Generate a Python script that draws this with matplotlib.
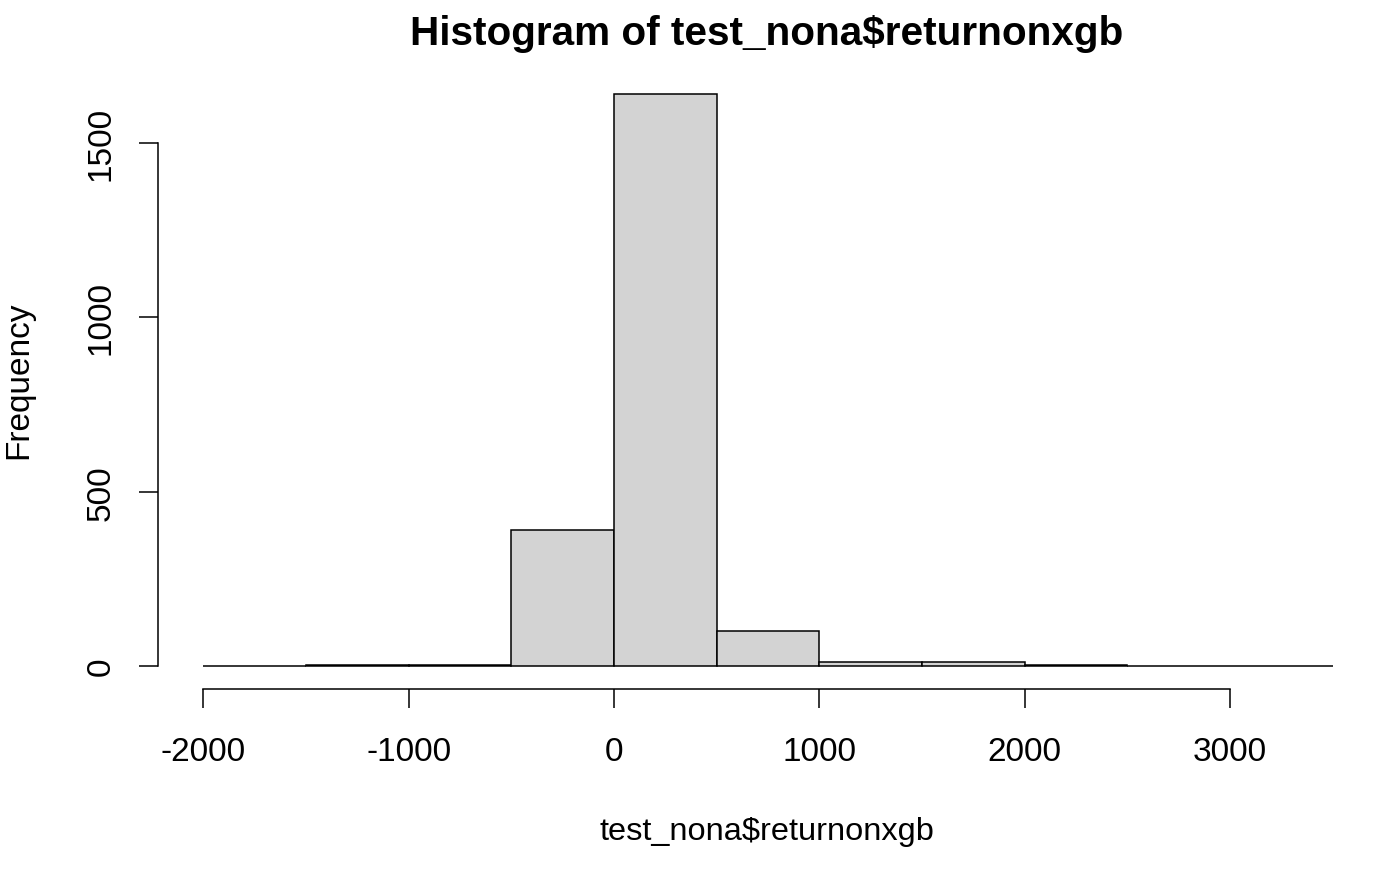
import matplotlib
matplotlib.use("Agg")
import matplotlib.pyplot as plt

plt.rcParams['font.family'] = ['Liberation Sans', 'DejaVu Sans']

bin_edges = [-2000, -1500, -1000, -500, 0, 500, 1000, 1500, 2000, 2500, 3000, 3500]
counts = [0, 2, 3, 391, 1641, 101, 11, 11, 3, 0, 0]
x_ticks = [-2000, -1000, 0, 1000, 2000, 3000]
y_ticks = [0, 500, 1000, 1500]
title = "Histogram of test_nona$returnonxgb"
xlabel = "test_nona$returnonxgb"
ylabel = "Frequency"

W, H = 1379, 870
fig = plt.figure(figsize=(W / 100, H / 100), dpi=100)
ax = fig.add_axes([158 / W, 1 - 690 / H, (1378 - 158) / W, (690 - 72) / H])

lefts = bin_edges[:-1]
widths = [b - a for a, b in zip(bin_edges[:-1], bin_edges[1:])]
ax.bar(lefts, counts, width=widths, align='edge', color='#D3D3D3',
       edgecolor='black', linewidth=1.1)

xmin, xmax = bin_edges[0], bin_edges[-1]
xr = xmax - xmin
ymax = max(counts)
ax.set_xlim(xmin - 0.04 * xr, xmax + 0.04 * xr)
ax.set_ylim(-0.04 * ymax, ymax * 1.04)

for s in ['top', 'right']:
    ax.spines[s].set_visible(False)
ax.spines['left'].set_bounds(y_ticks[0], y_ticks[-1])
ax.spines['bottom'].set_bounds(x_ticks[0], x_ticks[-1])
for s in ['left', 'bottom']:
    ax.spines[s].set_linewidth(1.1)

ax.set_xticks(x_ticks)
ax.set_yticks(y_ticks)
ax.set_xticklabels([str(t) for t in x_ticks])
ax.set_yticklabels([str(t) for t in y_ticks], rotation=90, va='center')
ax.tick_params(axis='both', length=14, width=1.1, labelsize=24, color='black')
ax.tick_params(axis='x', pad=20)
ax.tick_params(axis='y', pad=16)

fig.text(767 / W, 1 - 34 / H, title, ha='center', va='center',
         fontsize=29.2, fontweight='bold')
fig.text(767 / W, 1 - 832 / H, xlabel, ha='center', va='center', fontsize=23.4)
fig.text(19 / W, 1 - 380 / H, ylabel, ha='center', va='center', fontsize=24,
         rotation=90)

fig.savefig("out.png", dpi=100)
